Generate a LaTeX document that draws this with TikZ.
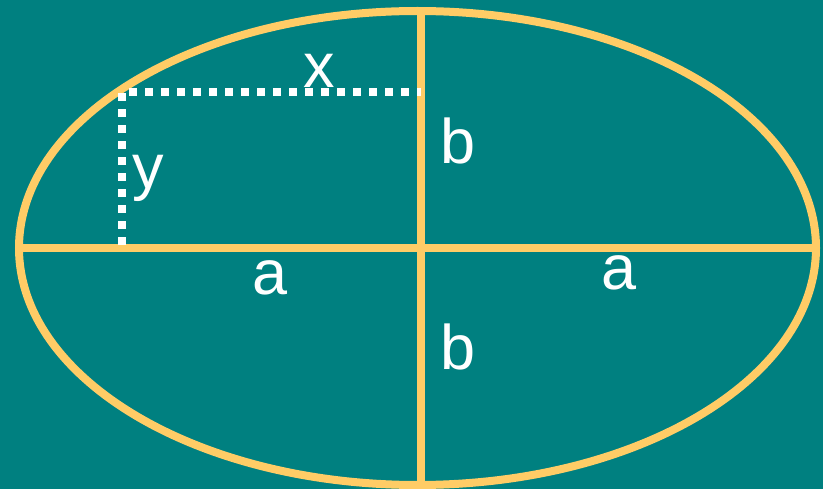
\documentclass[tikz,border=0pt]{standalone}
\usepackage{fontspec}
\setmainfont{Liberation Sans}
\usepackage{tikz}
\usetikzlibrary{calc,positioning}
\definecolor{fondo}{RGB}{0,128,128}
\definecolor{borde}{RGB}{255,204,102}
\tikzset{
  eje/.style={borde,line width=8pt},
  punteado/.style={white,line width=8pt,dash pattern=on 8pt off 8pt},
  etq/.style={white,anchor=base,inner sep=0pt,font=\fontsize{63}{63}\selectfont}
}
\begin{document}
\begin{tikzpicture}[x=1pt,y=-1pt]
\fill[fondo] (0,0) rectangle (823,489);
\useasboundingbox (0,0) rectangle (823,489);
\coordinate (O) at (421,248);
\coordinate (izq) at (20,248);
\coordinate (der) at (817,248);
\coordinate (arr) at (421,9);
\coordinate (aba) at (421,489);
\coordinate (P) at (121.5,92.5);
\coordinate (Px) at (121.5,245);
\coordinate (Py) at (421,92.5);
\draw[eje] (417.5,248) ellipse (398.5 and 237);
\draw[eje] (izq) -- (der);
\draw[eje] (arr) -- (aba);
\draw[punteado] (Px) -- (P) -- (Py);
\node[etq] (lx) at (319,88) {x};
\node[etq] (ly) at (148,189) {y};
\node[etq] (lb1) at (458,164) {b};
\node[etq] (lb2) at (458,370) {b};
\node[etq] (la1) at (270,295) {a};
\node[etq] (la2) at (619,290) {a};
\end{tikzpicture}
\end{document}
